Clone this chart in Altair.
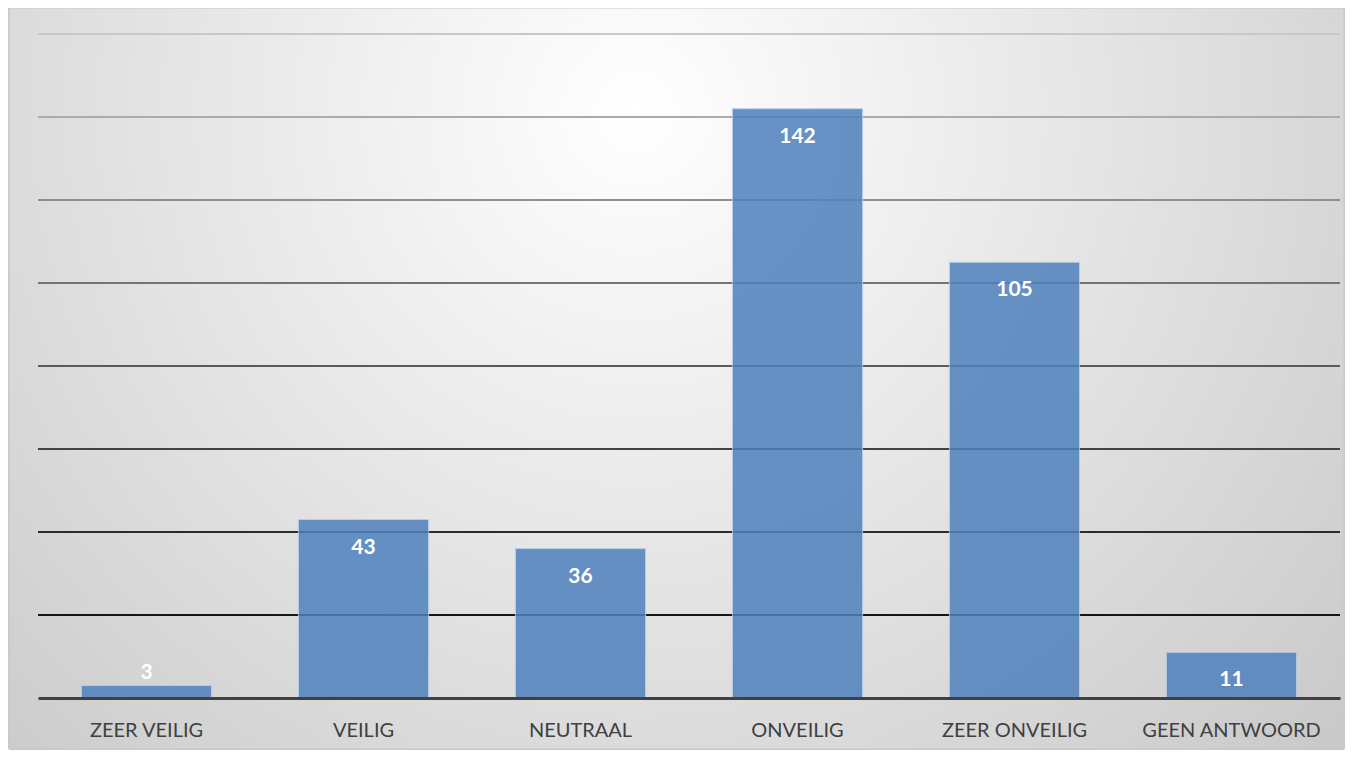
import altair as alt
import pandas as pd

categories = ["ZEER VEILIG", "VEILIG", "NEUTRAAL", "ONVEILIG", "ZEER ONVEILIG", "GEEN ANTWOORD"]
counts = [3, 43, 36, 142, 105, 11]
grid_values = [20, 40, 60, 80, 100, 120, 140, 160]

df = pd.DataFrame({"cat": categories, "n": counts})
grid = pd.DataFrame({"v": grid_values})

W, H = 1302, 664
FONT = "Lato"

xenc = alt.X("cat:N", sort=categories, title=None,
             scale=alt.Scale(paddingInner=0.4, paddingOuter=0.2),
             axis=alt.Axis(labelAngle=0, ticks=False, labelPadding=22, labelFontSize=20,
                           labelFont=FONT, labelColor="#404040", domainColor="#404040",
                           domainWidth=3, grid=False, zindex=2))
yscale = alt.Scale(domain=[0, 160], nice=False)

bg = alt.Chart(df).mark_rect(
    fill=alt.Gradient(gradient="radial", x1=0.47, y1=0.3, r1=0.0, x2=0.47, y2=0.3, r2=0.8,
                      stops=[alt.GradientStop(color="#ffffff", offset=0),
                             alt.GradientStop(color="#e4e4e4", offset=0.45),
                             alt.GradientStop(color="#c2c2c2", offset=1)]),
    stroke="#c8c8c8", strokeWidth=1
).encode(x=alt.value(-29), x2=alt.value(W + 4), y=alt.value(-26), y2=alt.value(H + 51))

rules = alt.Chart(grid).mark_rule(strokeWidth=2).encode(
    y=alt.Y("v:Q", scale=yscale, axis=None),
    x=alt.value(0), x2=alt.value(W),
    color=alt.Color("v:Q", legend=None,
                    scale=alt.Scale(domain=[20, 160], range=["#151515", "#c8c8c8"]))
)

bars = alt.Chart(df).mark_bar(color="#4f81bd", opacity=0.85, stroke="#b4cbe8",
                              strokeWidth=1, strokeOpacity=1).encode(
    x=xenc,
    y=alt.Y("n:Q", scale=yscale, axis=None),
)

inside = alt.Chart(df).transform_filter("datum.n >= 10").mark_text(
    color="white", fontWeight="bold", fontSize=21, font=FONT, dy=28
).encode(x=alt.X("cat:N", sort=categories), y=alt.Y("n:Q", scale=yscale), text="n:Q")

outside = alt.Chart(df).transform_filter("datum.n < 10").mark_text(
    color="white", fontWeight="bold", fontSize=21, font=FONT, dy=-13
).encode(x=alt.X("cat:N", sort=categories), y=alt.Y("n:Q", scale=yscale), text="n:Q")

chart = alt.layer(bg, rules, bars, inside, outside).properties(
    width=W, height=H,
    autosize=alt.AutoSizeParams(type="none"),
    padding={"left": 30, "top": 26, "right": 5, "bottom": 52},
    background="white",
).resolve_scale(color="independent").configure_view(stroke=None)

chart.save("out.html", embed_options={"renderer": "svg", "actions": False})
